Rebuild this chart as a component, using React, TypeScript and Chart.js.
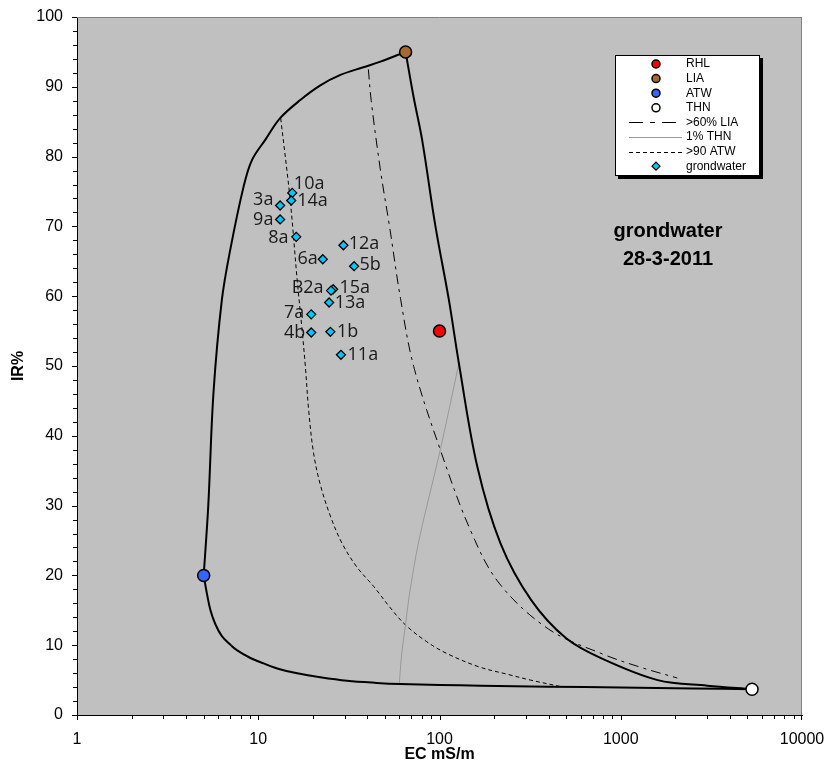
import React, { useEffect, useRef } from "react";
import { Chart, registerables } from "chart.js";

Chart.register(...registerables);

// ---------- axis ticks ----------
const xTickValues = [1, 10, 100, 1000, 10000];
const yTickValues = [0, 10, 20, 30, 40, 50, 60, 70, 80, 90, 100];

// ---------- groundwater samples ----------
const sampleLabels = ["10a", "14a", "3a", "9a", "8a", "12a", "6a", "5b", "15a", "B2a", "13a", "7a", "4b", "1b", "11a"];
const sampleEC = [15.4, 15.2, 13.2, 13.2, 16.2, 29.5, 22.7, 33.8, 25.9, 25.2, 24.6, 19.6, 19.6, 25.0, 28.6];
const sampleIR = [74.8, 73.7, 73.0, 71.0, 68.5, 67.3, 65.3, 64.3, 61.0, 60.8, 59.1, 57.4, 54.8, 54.9, 51.6];

// ---------- end members ----------
const endNames = ["RHL", "LIA", "ATW", "THN"];
const endEC = [100, 65, 5, 5300];
const endIR = [55, 95, 20, 3.7];

// ---------- boundary curves ----------
const upperEC = [5, 5.3, 5.66, 6.3, 7.0, 8.3, 9.23, 11, 13.2, 17.06, 22, 28.4, 38, 47.2, 65];
const upperIR = [20, 30, 46.1, 59.5, 66.6, 75.7, 79.5, 82.5, 85.5, 88.1, 90.2, 91.7, 92.8, 93.6, 95];

const rightEC = [65, 72, 80.2, 95, 112.6, 127.9, 161.6, 217, 320, 500, 800, 1600, 3000, 5300];
const rightIR = [95, 88.5, 82.4, 70, 59.5, 50.4, 35.6, 24.6, 16.5, 11, 8, 5, 4.2, 3.7];

const lowerEC = [5, 5.2, 5.45, 5.8, 6.3, 7.0, 7.62, 9.0, 10.7, 13, 16.4, 22, 30.9, 45, 60.9, 100, 168.5, 400, 1000, 2500, 5300];
const lowerIR = [20, 17.5, 15, 13, 11.3, 10.1, 9.3, 8.2, 7.4, 6.6, 5.97, 5.4, 4.9, 4.6, 4.44, 4.3, 4.2, 4.05, 3.95, 3.8, 3.7];

// ---------- mixing lines ----------
const thnEC = [60, 62, 65, 68, 77, 101, 128];
const thnIR = [4.5, 9, 13, 17, 25, 38, 50.4];

const atwEC = [13.3, 15.0, 16.4, 17.4, 18.2, 19.0, 20.2, 22, 25, 29, 35, 43.4, 53, 64.9, 85, 110, 165, 240, 318, 480];
const atwIR = [85.5, 73.8, 62.3, 55.5, 49.9, 43.5, 37.5, 33, 28.5, 24.6, 21.2, 18.4, 15.5, 12.9, 10.5, 8.8, 6.9, 5.8, 5.0, 4.0];

const liaEC = [40.5, 42, 47.2, 53, 60.9, 72.1, 101, 148, 213, 400, 800, 1300, 2050];
const liaIR = [92.5, 88, 78.1, 70, 59.7, 49.9, 38, 26.5, 18.9, 12.3, 8.7, 6.8, 5.3];

// ---------- text ----------
const xTitle = "EC mS/m";
const yTitle = "IR%";
const annotationLines = ["grondwater", "28-3-2011"];
const legendLabels = ["RHL", "LIA", "ATW", "THN", ">60% LIA", "1% THN", ">90 ATW", "grondwater"];

// styles
const endColors = ["#ff0000", "#a66a30", "#3366ff", "#ffffff"];
const cyan = "#00c8ff";
const plotBg = "#c0c0c0";
const liaDash = [10, 5, 3, 5];
const atwDash = [4, 3];

// label placement (style): dx, dy, side
const labelPlacement: Record<string, [number, number, "L" | "R"]> = {
  "10a": [1.6, -9.4, "R"],
  "14a": [6, 0, "R"],
  "3a": [-6.7, -5.7, "L"],
  "9a": [-6.7, 0, "L"],
  "8a": [-7.7, 1, "L"],
  "12a": [5.3, -1, "R"],
  "6a": [-5, 0, "L"],
  "5b": [5.3, -1, "R"],
  "15a": [6.3, -1, "R"],
  "B2a": [-7.4, -3, "L"],
  "13a": [5.6, 0, "R"],
  "7a": [-7, -1, "L"],
  "4b": [-6, 0, "L"],
  "1b": [6.7, 0, "R"],
  "11a": [6.6, 0, "R"],
};

const pts = (xs: number[], ys: number[]) => xs.map((x, i) => ({ x, y: ys[i] }));

const FONT = "'Liberation Sans', Arial, sans-serif";

const decorPlugin = {
  id: "decor",
  beforeDraw(chart: any) {
    const { ctx, chartArea: ca } = chart;
    ctx.save();
    ctx.fillStyle = "#ffffff";
    ctx.fillRect(0, 0, chart.width, chart.height);
    ctx.fillStyle = plotBg;
    ctx.fillRect(ca.left, ca.top, ca.right - ca.left, ca.bottom - ca.top);
    ctx.restore();
  },
  afterDatasetsDraw(chart: any) {
    const { ctx, chartArea: ca } = chart;
    const xs = chart.scales.x;
    const ys = chart.scales.y;
    ctx.save();
    // top/right frame
    ctx.strokeStyle = "#808080";
    ctx.lineWidth = 1;
    ctx.beginPath();
    ctx.moveTo(ca.left, Math.round(ca.top) + 0.5);
    ctx.lineTo(ca.right, Math.round(ca.top) + 0.5);
    ctx.moveTo(Math.round(ca.right) - 0.5, ca.top);
    ctx.lineTo(Math.round(ca.right) - 0.5, ca.bottom);
    ctx.stroke();

    // ticks
    ctx.strokeStyle = "#000";
    ctx.beginPath();
    for (let v = 0; v <= 100; v += 2) {
      const y = Math.round(ys.getPixelForValue(v)) + 0.5;
      const len = v % 10 === 0 ? 5 : 4;
      ctx.moveTo(ca.left - len, y);
      ctx.lineTo(ca.left, y);
    }
    for (let d = 1; d <= 1000; d *= 10) {
      for (let m = 1; m <= 9; m++) {
        const x = Math.round(xs.getPixelForValue(m * d)) + 0.5;
        const len = m === 1 ? 5 : 4;
        ctx.moveTo(x, ca.bottom);
        ctx.lineTo(x, ca.bottom + len);
      }
    }
    {
      const x = Math.round(xs.getPixelForValue(10000)) - 0.5;
      ctx.moveTo(x, ca.bottom);
      ctx.lineTo(x, ca.bottom + 5);
    }
    ctx.stroke();

    // axis titles
    ctx.fillStyle = "#000";
    ctx.font = `bold 16px ${FONT}`;
    ctx.textAlign = "center";
    ctx.textBaseline = "middle";
    ctx.fillText(xTitle, (ca.left + ca.right) / 2, ca.bottom + 40);
    ctx.save();
    ctx.translate(18.5, (ca.top + ca.bottom) / 2);
    ctx.rotate(-Math.PI / 2);
    ctx.fillText(yTitle, 0, 0);
    ctx.restore();

    // data labels
    const meta = chart.getDatasetMeta(5);
    ctx.font = `18px 'Open Sans', sans-serif`;
    ctx.fillStyle = "#1a1a1a";
    ctx.textBaseline = "middle";
    meta.data.forEach((el: any, i: number) => {
      const lab = sampleLabels[i];
      const p = labelPlacement[lab] || [6, 0, "R"];
      ctx.textAlign = p[2] === "R" ? "left" : "right";
      ctx.fillText(lab, el.x + p[0], el.y + p[1]);
    });

    // annotation
    ctx.fillStyle = "#000";
    ctx.font = `bold 20px ${FONT}`;
    ctx.textAlign = "center";
    ctx.textBaseline = "alphabetic";
    const ax = ca.right - 134;
    ctx.fillText(annotationLines[0], ax, ca.top + 220);
    ctx.fillText(annotationLines[1], ax, ca.top + 248);

    // legend
    const x0 = ca.right - 187;
    const y0 = ca.top + 38;
    const w = 145;
    const h = 121;
    ctx.fillStyle = "#000";
    ctx.fillRect(x0 + 3, y0 + 3, w, h);
    ctx.fillStyle = "#fff";
    ctx.fillRect(x0, y0, w, h);
    ctx.strokeStyle = "#000";
    ctx.lineWidth = 1;
    ctx.strokeRect(x0 + 0.5, y0 + 0.5, w - 1, h - 1);
    ctx.font = `12px ${FONT}`;
    ctx.textAlign = "left";
    ctx.textBaseline = "middle";
    legendLabels.forEach((lab, i) => {
      const y = y0 + 9 + i * 14.6;
      const mx = x0 + 41;
      ctx.save();
      if (i < 4) {
        ctx.beginPath();
        ctx.arc(mx, y, 4, 0, Math.PI * 2);
        ctx.fillStyle = endColors[i];
        ctx.fill();
        ctx.lineWidth = 1.5;
        ctx.strokeStyle = "#000";
        ctx.stroke();
      } else if (i === 7) {
        ctx.beginPath();
        ctx.moveTo(mx - 4, y);
        ctx.lineTo(mx, y - 4);
        ctx.lineTo(mx + 4, y);
        ctx.lineTo(mx, y + 4);
        ctx.closePath();
        ctx.fillStyle = cyan;
        ctx.fill();
        ctx.lineWidth = 1.2;
        ctx.strokeStyle = "#000";
        ctx.stroke();
      } else {
        ctx.beginPath();
        const yy = Math.round(y) + 0.5;
        ctx.moveTo(x0 + 14, yy);
        ctx.lineTo(x0 + 67, yy);
        ctx.lineWidth = 1;
        if (i === 4) {
          ctx.setLineDash([14, 7, 5, 7]);
          ctx.strokeStyle = "#000";
        } else if (i === 5) {
          ctx.strokeStyle = "#999";
        } else {
          ctx.setLineDash(atwDash);
          ctx.strokeStyle = "#000";
        }
        ctx.stroke();
      }
      ctx.restore();
      ctx.fillStyle = "#000";
      ctx.fillText(lab, x0 + 71, y);
    });
    ctx.restore();
  },
};

export default function App() {
  const ref = useRef<HTMLCanvasElement>(null);
  useEffect(() => {
    const canvas = ref.current!;
    const lineDs = (data: any, color: string, width: number, dash: number[] = [], tension = 0.35) => ({
      type: "scatter" as const,
      data,
      showLine: true,
      borderColor: color,
      borderWidth: width,
      borderDash: dash,
      pointRadius: 0,
      pointHoverRadius: 0,
      tension,
      fill: false,
      order: 5,
    });
    const chart = new Chart(canvas, {
      type: "scatter",
      data: {
        datasets: [
          lineDs(pts(upperEC, upperIR), "#000", 2),
          lineDs(pts(rightEC, rightIR), "#000", 2),
          lineDs(pts(lowerEC, lowerIR), "#000", 2),
          lineDs(pts(thnEC, thnIR), "#999", 1),
          lineDs(pts(atwEC, atwIR), "#000", 1, atwDash),
          {
            data: pts(sampleEC, sampleIR),
            pointStyle: "rectRot",
            pointRadius: 4.5,
            pointHoverRadius: 4.5,
            backgroundColor: cyan,
            borderColor: "#000",
            borderWidth: 1.3,
            showLine: false,
            order: 2,
          } as any,
          lineDs(pts(liaEC, liaIR), "#000", 1, liaDash),
          {
            data: pts(endEC, endIR),
            pointStyle: "circle",
            pointRadius: 6,
            pointHoverRadius: 6,
            backgroundColor: endColors,
            borderColor: "#000",
            borderWidth: 1.5,
            showLine: false,
            order: 0,
          } as any,
        ],
      },
      options: {
        responsive: false,
        animation: false,
        events: [],
        layout: { padding: { left: 0, right: 25, top: 17, bottom: 0 } },
        plugins: {
          legend: { display: false },
          tooltip: { enabled: false },
        },
        scales: {
          x: {
            type: "logarithmic",
            min: 1,
            max: 10000,
            afterBuildTicks: (scale: any) => {
              scale.ticks = xTickValues.map((v) => ({ value: v }));
            },
            afterFit: (scale: any) => {
              scale.height = 61;
              scale.paddingLeft = 0;
              scale.paddingRight = 0;
            },
            ticks: {
              autoSkip: false,
              maxRotation: 0,
              padding: 15,
              color: "#000",
              font: { family: "Liberation Sans", size: 16 },
              callback: (v: any) => String(v),
            },
            grid: { display: true, drawOnChartArea: false, drawTicks: false },
            border: { display: true, color: "#000", width: 1 },
          },
          y: {
            type: "linear",
            min: 0,
            max: 100,
            afterBuildTicks: (scale: any) => {
              scale.ticks = yTickValues.map((v) => ({ value: v }));
            },
            afterFit: (scale: any) => {
              scale.width = 77;
              scale.paddingTop = 0;
              scale.paddingBottom = 0;
            },
            ticks: {
              padding: 14,
              color: "#000",
              font: { family: "Liberation Sans", size: 16 },
              callback: (v: any) => String(v),
            },
            grid: { display: true, drawOnChartArea: false, drawTicks: false },
            border: { display: true, color: "#000", width: 1 },
          },
        },
      },
      plugins: [decorPlugin],
    });
    return () => chart.destroy();
  }, []);
  return (
    <div style={{ position: "absolute", left: 0, top: 0, width: 827, height: 776, background: "#fff" }}>
      <canvas ref={ref} width={827} height={776} style={{ display: "block", width: 827, height: 776 }} />
    </div>
  );
}
